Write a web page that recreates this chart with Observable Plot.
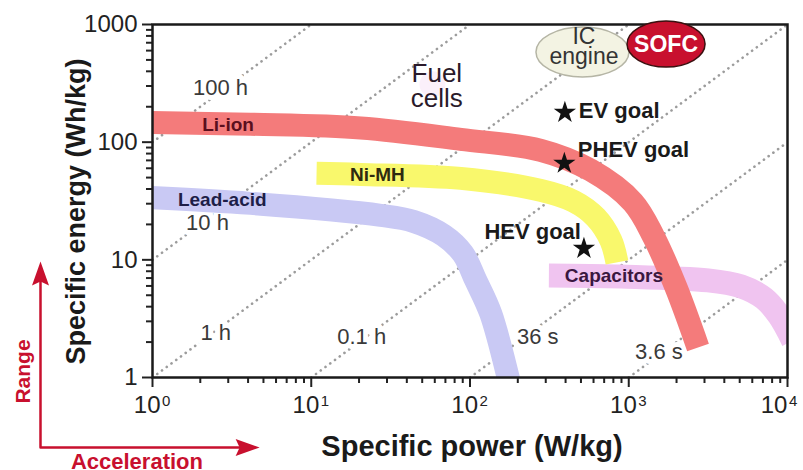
<!DOCTYPE html>
<html><head><meta charset="utf-8">
<script src="https://cdn.jsdelivr.net/npm/d3@7"></script>
<script src="https://cdn.jsdelivr.net/npm/@observablehq/plot@0.6"></script>
<style>html,body{margin:0;padding:0;background:#fff;}</style>
</head><body><div id="chart"></div>
<script>
// ---- data (specific power W/kg, specific energy Wh/kg) ----
const liIonP = [0.9, 4.15, 20.5, 87.5, 279, 578, 1062, 1442, 1985, 2731];
const liIonE = [147, 142, 132, 105.6, 85.2, 57.6, 30.8, 15.5, 5.83, 1.8];
const niMHP = [10.8, 20.5, 87.5, 279, 451, 621, 772, 843];
const niMHE = [54.3, 53.2, 49.2, 38.9, 31.4, 22.9, 14.6, 9.5];
const leadAcidP = [0.9, 4.15, 27.4, 44.2, 68.4, 90.1, 108.8, 135, 174, 180];
const leadAcidE = [34, 30.2, 23.9, 21.2, 16.1, 11.3, 6.68, 3.5, 1.0, 0.82];
const capP = [314, 893, 3157, 5097, 7118, 8851, 10850];
const capE = [7.37, 7.22, 6.68, 5.94, 4.70, 3.37, 2.06];

const bandNames = ["Li-ion", "Ni-MH", "Lead-acid", "Capacitors"];
const bandLabelP = [2.99, 26.1, 2.75, 807];
const bandLabelE = [140, 52.7, 32.0, 7.37];

// constant discharge-time lines (E/P = t)
const timeLabels = ["100 h", "10 h", "1 h", "0.1 h", "36 s", "3.6 s"];
const timeP1 = [1, 1, 1, 10, 100, 1000];
const timeE1 = [100, 10, 1, 1, 1, 1];
const timeP2 = [10, 100, 1000, 10000, 10000, 10000];
const timeE2 = [1000, 1000, 1000, 1000, 100, 10];
const timeLabelP = [2.68, 2.22, 2.50, 20.8, 267, 1550];
const timeLabelE = [287, 20.4, 2.37, 2.23, 2.23, 1.66];

const goalNames = ["EV goal", "PHEV goal", "HEV goal"];
const goalP = [396, 393, 522];
const goalE = [179, 66, 12.5];
const goalLabelP = [485, 478, 500];
const goalLabelE = [184.6, 85.2, 17.3];

const xTicks = [1, 10, 100, 1000, 10000];
const xTickLabelAt = [1, 10, 100, 1000, 8900];
const xTickBase = ["10", "10", "10", "10", "10"];
const xTickExp = ["0", "1", "2", "3", "4"];
const xMinor = [2,3,4,5,6,7,8,9,20,30,40,50,60,70,80,90,200,300,400,500,600,700,800,900,2000,3000,4000,5000,6000,7000,8000,9000];
const yTicks = [1, 10, 100, 1000];
const yTickLabels = ["1", "10", "100", "1000"];
const yMinor = [2,3,4,5,6,7,8,9,20,30,40,50,60,70,80,90,200,300,400,500,600,700,800,900];

const xLabel = "Specific power (W/kg)";
const yLabel = "Specific energy (Wh/kg)";

// ---- helpers ----
const toRows = (P, E) => P.map((p, i) => ({p, e: E[i]}));
function ellipseSymbol(rx, ry) {
  return {draw(ctx) {
    const k = 0.5523;
    ctx.moveTo(rx, 0);
    ctx.bezierCurveTo(rx, k*ry, k*rx, ry, 0, ry);
    ctx.bezierCurveTo(-k*rx, ry, -rx, k*ry, -rx, 0);
    ctx.bezierCurveTo(-rx, -k*ry, -k*rx, -ry, 0, -ry);
    ctx.bezierCurveTo(k*rx, -ry, rx, -k*ry, rx, 0);
    ctx.closePath();
  }};
}
const arrowHead = {draw(ctx) {
  ctx.moveTo(0, 0); ctx.lineTo(8.5, 24); ctx.lineTo(0, 20); ctx.lineTo(-8.5, 24); ctx.closePath();
}};

const bands = [
  {rows: toRows(leadAcidP, leadAcidE), color: "#c9c9f4", w: 23},
  {rows: toRows(capP, capE), color: "#f0c4f0", w: 24},
  {rows: toRows(niMHP, niMHE), color: "#f9f86c", w: 23},
  {rows: toRows(liIonP, liIonE), color: "#f47b7b", w: 23}
];
const bandLabelColors = ["#5a0f1e", "#2e2a10", "#1e1e48", "#3a1740"];

const timeRows = timeLabels.map((t, i) => ({t, p1: timeP1[i], e1: timeE1[i], p2: timeP2[i], e2: timeE2[i], lp: timeLabelP[i], le: timeLabelE[i]}));
const goalRows = goalNames.map((g, i) => ({g, p: goalP[i], e: goalE[i], lp: goalLabelP[i], le: goalLabelE[i]}));
const bandLabelRows = bandNames.map((n, i) => ({n, p: bandLabelP[i], e: bandLabelE[i], c: bandLabelColors[i]}));
const xTickRows = xTicks.map((v, i) => ({at: xTickLabelAt[i], base: xTickBase[i], exp: xTickExp[i]}));

const red = "#c8102e";

const plot = Plot.plot({
  width: 803, height: 470,
  marginLeft: 152, marginRight: 16, marginTop: 24, marginBottom: 93,
  style: {fontFamily: "'Liberation Sans', Arial, sans-serif", background: "white", overflow: "visible"},
  x: {type: "log", domain: [1, 10000], axis: null},
  y: {type: "log", domain: [1, 1000], axis: null},
  marks: [
    // faint glow behind Fuel cells
    Plot.dot([{p: 58, e: 310}], {x: "p", y: "e", r: 13, fill: "#f6def3", fillOpacity: 0.45, stroke: "none"}),
    // constant-time dotted lines
    Plot.link(timeRows, {x1: "p1", y1: "e1", x2: "p2", y2: "e2", stroke: "#9c9c9c", strokeWidth: 2.6, strokeDasharray: "0.1 5.8", strokeLinecap: "round", clip: true}),
    Plot.text(timeRows, {x: "lp", y: "le", text: "t", fontSize: 22, fill: "#3a3a3a", stroke: "white", strokeWidth: 10, paintOrder: "stroke"}),
    // bands
    ...bands.map(b => Plot.line(b.rows, {x: "p", y: "e", curve: "catmull-rom", stroke: b.color, strokeWidth: b.w, strokeLinecap: "butt", strokeLinejoin: "round", clip: true})),
    Plot.text(bandLabelRows, {x: "p", y: "e", text: "n", fill: "c", fontSize: 19, fontWeight: "bold"}),
    // axes
    Plot.axisY(yTicks, {tickSize: 10, tickPadding: 5, fontSize: 24, color: "#222", strokeWidth: 2, tickFormat: d => yTickLabels[yTicks.indexOf(d)], label: null}),
    Plot.axisY(yMinor, {tickSize: 6, color: "#222", strokeWidth: 2, tickFormat: () => "", label: null}),
    Plot.axisX(xTicks, {tickSize: 10, color: "#222", strokeWidth: 2, tickFormat: () => "", label: null}),
    Plot.axisX(xMinor, {tickSize: 6, color: "#222", strokeWidth: 2, tickFormat: () => "", label: null}),
    Plot.text(xTickRows, {x: "at", frameAnchor: "bottom", text: "base", dx: 8, dy: 35, lineAnchor: "bottom", textAnchor: "end", fontSize: 24, fill: "#222"}),
    Plot.text(xTickRows, {x: "at", frameAnchor: "bottom", text: "exp", dx: 9.5, dy: 28, lineAnchor: "bottom", textAnchor: "start", fontSize: 15, fill: "#222"}),
    Plot.frame({stroke: "#1a1a1a", strokeWidth: 2.5}),
    Plot.text([yLabel], {text: d => d, frameAnchor: "left", textAnchor: "middle", rotate: -90, dx: -67.5, dy: 10.5, lineAnchor: "bottom", fontSize: 27, fontWeight: "bold", fill: "#1a1a1a"}),
    Plot.text([xLabel], {text: d => d, frameAnchor: "bottom", textAnchor: "middle", dx: 2, dy: 78, lineAnchor: "bottom", fontSize: 29, fontWeight: "bold", fill: "#1a1a1a"}),
    // Fuel cells, IC engine, SOFC
    Plot.text([{t: "Fuel\ncells", p: 61.8, e: 296}], {x: "p", y: "e", text: "t", fontSize: 26, lineHeight: 0.97, fill: "#2a1a2a"}),
    Plot.dot([{p: 511, e: 584}], {x: "p", y: "e", symbol: ellipseSymbol(46.5, 25), fill: "#f3f3e3", stroke: "#b5b5a5", strokeWidth: 1.5}),
    Plot.text([{t: "IC\nengine", p: 522, e: 640}], {x: "p", y: "e", text: "t", fontSize: 23, lineHeight: 0.9, fill: "#333"}),
    Plot.dot([{p: 1718, e: 682}], {x: "p", y: "e", symbol: ellipseSymbol(39, 23), fill: red, stroke: "#3a1010", strokeWidth: 1.5}),
    Plot.text([{t: "SOFC", p: 1718, e: 679}], {x: "p", y: "e", text: "t", fontSize: 23, fontWeight: "bold", fill: "white"}),
    // goals
    Plot.dot(goalRows, {x: "p", y: "e", symbol: "star", r: 7, fill: "#111", stroke: "none"}),
    Plot.text(goalRows.filter(d => d.g !== "HEV goal"), {x: "lp", y: "le", text: "g", textAnchor: "start", fontSize: 22, fontWeight: "bold", fill: "#1a1a1a"}),
    Plot.text(goalRows.filter(d => d.g === "HEV goal"), {x: "lp", y: "le", text: "g", textAnchor: "end", fontSize: 22, fontWeight: "bold", fill: "#1a1a1a"}),
    // Range / Acceleration arrows
    Plot.line([{p: 0.197, e: 8.28}, {p: 0.197, e: 0.254}, {p: 4.21, e: 0.254}], {x: "p", y: "e", stroke: red, strokeWidth: 2.5, clip: false}),
    Plot.dot([{p: 0.197, e: 9.69, r: 0}, {p: 4.73, e: 0.254, r: 90}], {x: "p", y: "e", symbol: arrowHead, rotate: "r", fill: red, stroke: "none"}),
    Plot.text([{t: "Range", p: 0.154, e: 1.125}], {x: "p", y: "e", text: "t", rotate: -90, fontSize: 21, fontWeight: "bold", fill: red}),
    Plot.text([{t: "Acceleration", p: 0.798, e: 0.168}], {x: "p", y: "e", text: "t", lineAnchor: "bottom", fontSize: 22, fontWeight: "bold", fill: red})
  ]
});
document.getElementById("chart").appendChild(plot);
</script>
</body></html>
